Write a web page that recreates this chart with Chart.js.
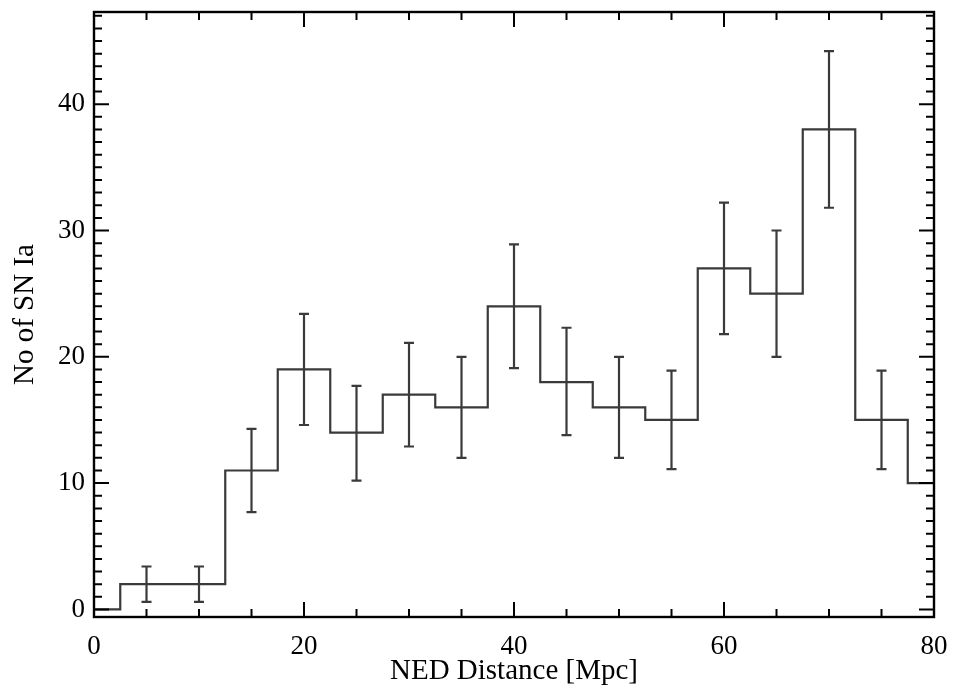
<!DOCTYPE html>
<html>
<head>
<meta charset="utf-8">
<script src="https://cdn.jsdelivr.net/npm/chart.js@4.4.1/dist/chart.umd.min.js"></script>
<style>
  html, body { margin: 0; padding: 0; background: #fff; }
  #wrap { width: 953px; height: 691px; }
</style>
</head>
<body>
<div id="wrap"><canvas id="myChart" width="953" height="691"></canvas></div>
<script>
// histogram of SN Ia counts per 5 Mpc bin
const binCenters = [0, 5, 10, 15, 20, 25, 30, 35, 40, 45, 50, 55, 60, 65, 70, 75, 80];
const counts     = [0, 2, 2, 11, 19, 14, 17, 16, 24, 18, 16, 15, 27, 25, 38, 15, 10];

// error bars
const errX    = [5, 10, 15, 20, 25, 30, 35, 40, 45, 50, 55, 60, 65, 70, 75];
const errLow  = [0.6, 0.6, 7.7, 14.6, 10.2, 12.9, 12.0, 19.1, 13.8, 12.0, 11.1, 21.8, 20.0, 31.8, 11.1];
const errHigh = [3.4, 3.4, 14.3, 23.4, 17.7, 21.1, 20.0, 28.9, 22.3, 20.0, 18.9, 32.2, 30.0, 44.2, 18.9];

const xTicks = [0, 20, 40, 60, 80];
const yTicks = [0, 10, 20, 30, 40];

const lineColor = '#3a3a3a';
const serif = '"Liberation Serif", "DejaVu Serif", serif';

//
// plugin: frame, inward ticks on all four sides, error bars
//
const frameAndErrors = {
    id: 'frameAndErrors',
    afterDatasetsDraw(chart) {
        const ctx = chart.ctx;
        const xs = chart.scales.x;
        const ys = chart.scales.y;
        const a = chart.chartArea;

        // error bars
        ctx.save();
        ctx.strokeStyle = lineColor;
        ctx.lineWidth = 2.2;
        for (let i = 0; i < errX.length; i++) {
            const px = xs.getPixelForValue(errX[i]);
            const lo = ys.getPixelForValue(errLow[i]);
            const hi = ys.getPixelForValue(errHigh[i]);
            ctx.beginPath();
            ctx.moveTo(px, lo); ctx.lineTo(px, hi);
            ctx.moveTo(px - 5, lo); ctx.lineTo(px + 5, lo);
            ctx.moveTo(px - 5, hi); ctx.lineTo(px + 5, hi);
            ctx.stroke();
        }
        ctx.restore();

        // frame
        ctx.save();
        ctx.strokeStyle = '#000';
        ctx.lineWidth = 2.4;
        ctx.strokeRect(a.left, a.top, a.right - a.left, a.bottom - a.top);

        // x ticks: major every 20, minor every 5
        ctx.lineWidth = 2;
        ctx.beginPath();
        for (let v = 0; v <= 80; v += 5) {
            const px = xs.getPixelForValue(v);
            const len = (v % 20 === 0) ? 15 : 8;
            ctx.moveTo(px, a.bottom); ctx.lineTo(px, a.bottom - len);
            ctx.moveTo(px, a.top); ctx.lineTo(px, a.top + len);
        }
        // y ticks: major every 10, minor every 1
        for (let v = 0; v <= 47; v += 1) {
            const py = ys.getPixelForValue(v);
            const len = (v % 10 === 0) ? 15 : 8;
            ctx.moveTo(a.left, py); ctx.lineTo(a.left + len, py);
            ctx.moveTo(a.right, py); ctx.lineTo(a.right - len, py);
        }
        ctx.stroke();
        ctx.restore();
    }
};

const ctx = document.getElementById('myChart').getContext('2d');

new Chart(ctx, {
    type: 'line',
    data: {
        datasets: [{
            data: binCenters.map((x, i) => ({ x: x, y: counts[i] })),
            stepped: 'middle',
            borderColor: lineColor,
            borderWidth: 2.2,
            pointRadius: 0,
            fill: false
        }]
    },
    options: {
        responsive: false,
        animation: false,
        layout: { padding: { top: 12, right: 19, left: 0, bottom: 0 } },
        plugins: {
            legend: { display: false },
            tooltip: { enabled: false }
        },
        scales: {
            x: {
                type: 'linear',
                min: 0,
                max: 80,
                afterBuildTicks: s => { s.ticks = xTicks.map(v => ({ value: v })); },
                afterFit: s => { s.height = 74; s.paddingLeft = 0; s.paddingRight = 0; },
                grid: { display: false, drawTicks: false },
                border: { display: false },
                ticks: {
                    color: '#000',
                    padding: 14,
                    maxRotation: 0,
                    font: { family: serif, size: 27 }
                },
                title: {
                    display: true,
                    text: 'NED Distance [Mpc]',
                    color: '#000',
                    padding: { top: 0, bottom: 2 },
                    font: { family: serif, size: 29 }
                }
            },
            y: {
                type: 'linear',
                min: -0.6,
                max: 47.3,
                afterBuildTicks: s => { s.ticks = yTicks.map(v => ({ value: v })); },
                afterFit: s => { s.width = 94; s.paddingTop = 0; s.paddingBottom = 0; },
                grid: { display: false, drawTicks: false },
                border: { display: false },
                ticks: {
                    color: '#000',
                    padding: 9,
                    font: { family: serif, size: 27 }
                },
                title: {
                    display: true,
                    text: 'No of SN Ia',
                    color: '#000',
                    padding: { top: 8, bottom: 0 },
                    font: { family: serif, size: 29 }
                }
            }
        }
    },
    plugins: [frameAndErrors]
});
</script>
</body>
</html>
